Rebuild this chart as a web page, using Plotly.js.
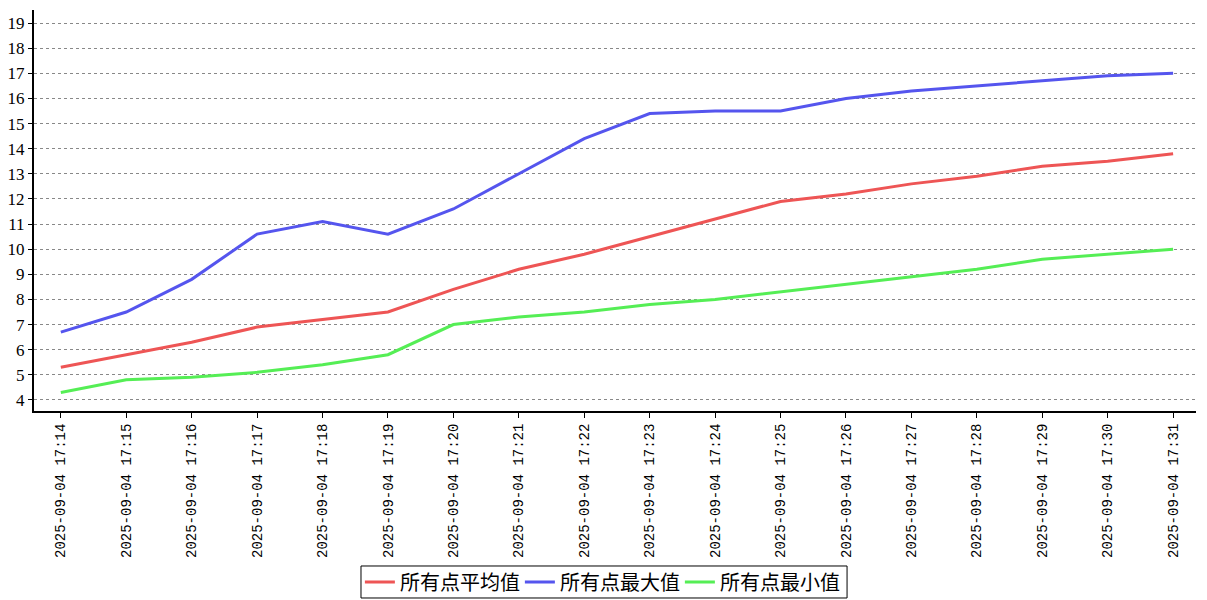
<!DOCTYPE html>
<html>
<head>
<meta charset="utf-8">
<script src="https://cdn.plot.ly/plotly-3.0.1.min.js"></script>
<style>html,body{margin:0;padding:0;background:#fff;}#chart{width:1207px;height:600px;}</style>
</head>
<body>
<div id="chart"></div>
<script>
const categories = ["2025-09-04 17:14","2025-09-04 17:15","2025-09-04 17:16","2025-09-04 17:17","2025-09-04 17:18","2025-09-04 17:19","2025-09-04 17:20","2025-09-04 17:21","2025-09-04 17:22","2025-09-04 17:23","2025-09-04 17:24","2025-09-04 17:25","2025-09-04 17:26","2025-09-04 17:27","2025-09-04 17:28","2025-09-04 17:29","2025-09-04 17:30","2025-09-04 17:31"];
const avgValues = [5.3, 5.8, 6.3, 6.9, 7.2, 7.5, 8.4, 9.2, 9.8, 10.5, 11.2, 11.9, 12.2, 12.6, 12.9, 13.3, 13.5, 13.8];
const maxValues = [6.7, 7.5, 8.8, 10.6, 11.1, 10.6, 11.6, 13.0, 14.4, 15.4, 15.5, 15.5, 16.0, 16.3, 16.5, 16.7, 16.9, 17.0];
const minValues = [4.3, 4.8, 4.9, 5.1, 5.4, 5.8, 7.0, 7.3, 7.5, 7.8, 8.0, 8.3, 8.6, 8.9, 9.2, 9.6, 9.8, 10.0];
const seriesNames = ["所有点平均值", "所有点最大值", "所有点最小值"];
const yTicks = [4,5,6,7,8,9,10,11,12,13,14,15,16,17,18,19];

const mk = (y, name, color) => ({
  x: categories, y: y, name: name, type: "scatter", mode: "lines",
  line: {color: color, width: 3}
});
const data = [
  mk(avgValues, seriesNames[0], "#ee5555"),
  mk(maxValues, seriesNames[1], "#5555ee"),
  mk(minValues, seriesNames[2], "#55ee55")
];
const layout = {
  width: 1207, height: 600,
  margin: {l: 34, r: 11, t: 10, b: 189, autoexpand: false},
  paper_bgcolor: "#ffffff", plot_bgcolor: "#ffffff",
  showlegend: true,
  legend: {
    orientation: "h", x: 0.497, xanchor: "center",
    xref: "container", yref: "container", y: 0.03, yanchor: "middle",
    bgcolor: "rgba(0,0,0,0)", borderwidth: 0,
    font: {family: "Noto Sans CJK SC", size: 20, color: "#000"},
    itemwidth: 30, tracegroupgap: 0, entrywidth: 115
  },
  shapes: [{
    type: "rect", xref: "paper", yref: "paper",
    x0: 0.2814, x1: 0.6997, y0: -0.3865, y1: -0.4663,
    line: {color: "#000", width: 1}, fillcolor: "rgba(0,0,0,0)"
  }],
  xaxis: {
    type: "category", range: [-0.41, 17.35], automargin: false,
    showgrid: false, zeroline: false,
    showline: true, linecolor: "#000", linewidth: 2,
    ticks: "outside", ticklen: 5, tickcolor: "#000", tickwidth: 1,
    tickangle: -90,
    tickfont: {family: "Liberation Mono", size: 14, color: "#000"}
  },
  yaxis: {
    range: [3.56, 19.52], tickvals: yTicks, automargin: false,
    showgrid: true, gridcolor: "#888", griddash: "dot", gridwidth: 1,
    zeroline: false,
    showline: true, linecolor: "#000", linewidth: 2,
    ticks: "outside", ticklen: 4, tickcolor: "#000",
    tickfont: {family: "Liberation Serif", size: 17, color: "#000"}
  }
};
Plotly.newPlot("chart", data, layout, {displayModeBar: false, staticPlot: true});
</script>
</body>
</html>
